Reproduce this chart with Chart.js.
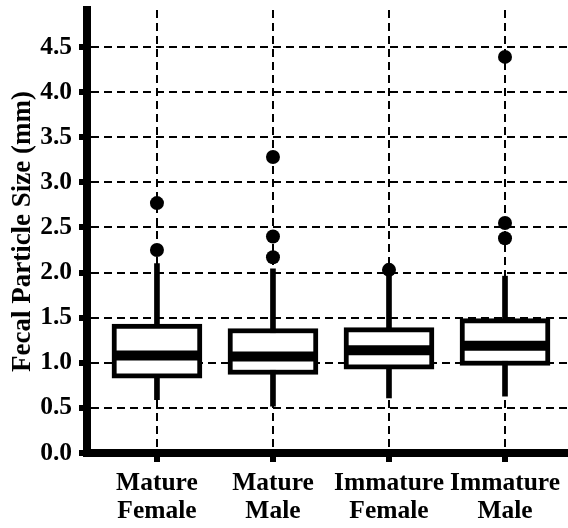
<!DOCTYPE html>
<html>
<head>
<meta charset="utf-8">
<script src="https://cdn.jsdelivr.net/npm/chart.js@4/dist/chart.umd.min.js"></script>
<style>
  html, body { margin: 0; padding: 0; background: #fff; }
  #wrap { width: 568px; height: 528px; position: relative; }
</style>
</head>
<body>
<div id="wrap"><canvas id="boxChart"></canvas></div>
<script>
// categories and box-plot summaries (mm)
const groups = [['Mature', 'Female'], ['Mature', 'Male'], ['Immature', 'Female'], ['Immature', 'Male']];
const groupPos = [1, 2, 3, 4];
const whiskerLow = [0.59, 0.52, 0.61, 0.63];
const q1 = [0.83, 0.87, 0.93, 0.97];
const median = [1.08, 1.07, 1.14, 1.19];
const q3 = [1.43, 1.38, 1.39, 1.49];
const whiskerHigh = [2.10, 2.04, 1.96, 1.96];
const outliers = [
    [2.25, 2.77],
    [2.17, 2.40, 3.28],
    [2.03],
    [2.38, 2.55, 4.39]
];
const yTicks = [0, 0.5, 1.0, 1.5, 2.0, 2.5, 3.0, 3.5, 4.0, 4.5];

const serif = 'Liberation Serif';

// build data for the library
const boxData = groupPos.map((x, i) => ({ x: x, y: [q1[i], q3[i]] }));
const whiskerData = groupPos.map((x, i) => ({ x: x, y: [whiskerLow[i], whiskerHigh[i]] }));
const medianData = groupPos.map((x, i) => ({ x: x, y: median[i] }));
const outlierData = [];
outliers.forEach((list, i) => {
    list.forEach(v => outlierData.push({ x: groupPos[i], y: v }));
});

// keep the plot area where the figure has it
function noPadding(s) {
    s.paddingLeft = 0;
    s.paddingRight = 0;
    s.paddingTop = 0;
    s.paddingBottom = 0;
}

const ctx = document.getElementById('boxChart').getContext('2d');
new Chart(ctx, {
    type: 'bar',
    data: {
        datasets: [
            {
                // 離群值
                type: 'line',
                data: outlierData,
                showLine: false,
                pointRadius: 7,
                pointBackgroundColor: '#000',
                pointBorderWidth: 0,
                clip: false
            },
            {
                // 中位數
                type: 'line',
                data: medianData,
                showLine: false,
                pointStyle: 'line',
                pointRadius: 44,
                pointBorderWidth: 10,
                pointBorderColor: '#000',
                clip: false
            },
            {
                // 箱體
                data: boxData,
                backgroundColor: '#fff',
                borderColor: '#000',
                borderWidth: 5,
                borderSkipped: false,
                barThickness: 90,
                grouped: false
            },
            {
                // 鬚
                data: whiskerData,
                backgroundColor: '#000',
                borderWidth: 0,
                barThickness: 5,
                grouped: false
            }
        ]
    },
    options: {
        responsive: true,
        maintainAspectRatio: false,
        animation: false,
        layout: { autoPadding: false, padding: { top: 10, right: 0, left: 0, bottom: 0 } },
        plugins: {
            legend: { display: false },
            tooltip: { enabled: false }
        },
        scales: {
            x: {
                type: 'linear',
                min: 0.397,
                max: 4.543,
                offset: false,
                afterBuildTicks: s => { s.ticks = groupPos.map(v => ({ value: v })); },
                afterFit: s => { s.height = 75; noPadding(s); },
                ticks: {
                    callback: v => groups[groupPos.indexOf(v)] || '',
                    color: '#000',
                    font: { family: serif, size: 25.5, weight: 'bold', lineHeight: 1.11 },
                    padding: 7,
                    maxRotation: 0,
                    autoSkip: false
                },
                grid: {
                    offset: false,
                    color: '#000',
                    lineWidth: 2,
                    tickLength: 9,
                    tickWidth: 6,
                    tickColor: '#000',
                    tickBorderDash: []
                },
                border: { display: true, color: '#000', width: 8, dash: [8, 5] }
            },
            y: {
                min: 0,
                max: 4.91,
                afterBuildTicks: s => { s.ticks = yTicks.map(v => ({ value: v })); },
                afterFit: s => { s.width = 87; noPadding(s); },
                ticks: {
                    callback: v => v.toFixed(1),
                    color: '#000',
                    font: { family: serif, size: 25.5, weight: 'bold' },
                    padding: 7
                },
                grid: {
                    color: '#000',
                    lineWidth: 2,
                    tickLength: 8,
                    tickWidth: 6,
                    tickColor: '#000',
                    tickBorderDash: []
                },
                border: { display: true, color: '#000', width: 8, dash: [8, 5] },
                title: {
                    display: true,
                    text: 'Fecal Particle Size (mm)',
                    color: '#000',
                    font: { family: serif, size: 27, weight: 'bold', lineHeight: 1.2 },
                    padding: { top: 7, bottom: 0 }
                }
            }
        }
    }
});
</script>
</body>
</html>
